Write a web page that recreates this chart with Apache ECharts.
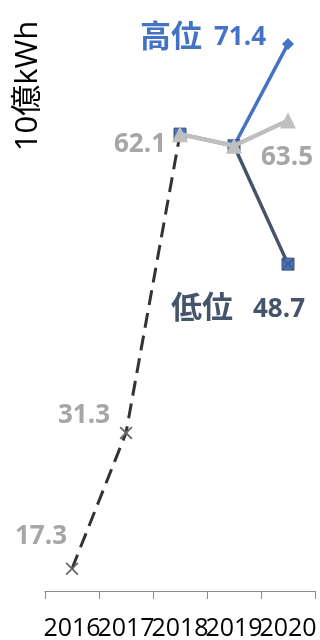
<!DOCTYPE html>
<html><head><meta charset="utf-8">
<script src="https://cdn.jsdelivr.net/npm/echarts@6/dist/echarts.min.js"></script>
<style>html,body{margin:0;padding:0;background:#fff}#c{width:320px;height:640px}</style>
</head><body><div id="c"></div>
<script>
var years = ['2016','2017','2018','2019','2020'];
var actual = [17.3, 31.3, 62.1, null, null];
var high = [null, null, 62.1, 60.9, 71.4];
var mid = [null, null, 62.1, 60.9, 63.5];
var low = [null, null, 62.1, 60.9, 48.7];
var unitLabel = '10億kWh';
var highName = '高位', lowName = '低位';

var FONT = '"Open Sans","Noto Sans CJK JP",sans-serif';
var BLUE = '#4472C4', DARK = '#44546A', GRAY = '#BFBFBF', LGRAY = '#A6A6A6';
var XPATH = 'path://M0,1L1,0L5,4L9,0L10,1L6,5L10,9L9,10L5,6L1,10L0,9L4,5Z';

function lbl(offset, color) {
  return {show: true, position: 'inside', offset: offset, color: color,
    fontFamily: FONT, fontWeight: 'bold', fontSize: 26};
}

var chart = echarts.init(document.getElementById('c'), null, {renderer: 'canvas'});
chart.setOption({
  animation: false,
  grid: {left: 45, right: 5, top: 9, bottom: 49, containLabel: false, outerBoundsMode: 'none'},
  xAxis: {
    type: 'category', data: years, boundaryGap: true,
    axisLine: {lineStyle: {color: '#8c8c8c', width: 1}},
    axisTick: {show: true, length: 8, lineStyle: {color: '#8c8c8c'}},
    axisLabel: {interval: 0, hideOverlap: false, color: '#000', fontFamily: FONT, fontSize: 25, margin: 25}
  },
  yAxis: {type: 'value', min: 15, max: 75, show: false, splitLine: {show: false}},
  graphic: [{
    type: 'text', x: 28, y: 86, rotation: Math.PI / 2,
    style: {text: unitLabel, fontFamily: FONT, fontSize: 31, fill: '#000', align: 'center', verticalAlign: 'middle'}
  }],
  series: [
    {
      type: 'line', z: 2,
      lineStyle: {color: '#333333', width: 3, type: [15, 8]},
      symbol: XPATH, symbolSize: 13, itemStyle: {color: '#6b6b6b'},
      label: {show: false},
      data: actual.map(function (v, i) {
        if (i === 0) return {value: v, label: lbl([-31, -32], LGRAY)};
        if (i === 1) return {value: v, label: lbl([-42, -17], LGRAY)};
        if (i === 2) return {value: v, symbol: 'none'};
        return v;
      })
    },
    {
      type: 'line', z: 3,
      lineStyle: {color: DARK, width: 3.5},
      symbol: 'rect', symbolSize: 12, itemStyle: {color: BLUE, borderColor: DARK, borderWidth: 1},
      data: low.map(function (v, i) {
        if (i === 4) return {value: v, label: {
          show: true, position: 'inside', offset: [-50, 45],
          formatter: '{a|' + lowName + '}{b|{c}}',
          rich: {
            a: {color: DARK, fontFamily: FONT, fontWeight: 'bold', fontSize: 31},
            b: {color: DARK, fontFamily: FONT, fontWeight: 'bold', fontSize: 26, padding: [0, 0, 0, 20]}
          }
        }};
        return v;
      })
    },
    {
      type: 'scatter', z: 4, data: low.map(function (v, i) { return i === 4 ? v : null; }),
      symbol: XPATH, symbolSize: 11, itemStyle: {color: DARK}, silent: true
    },
    {
      type: 'line', z: 3,
      lineStyle: {color: BLUE, width: 3.5},
      symbol: 'rect', symbolSize: 10, itemStyle: {color: BLUE},
      data: high.map(function (v, i) {
        if (i === 4) return {value: v, symbol: 'diamond', symbolSize: 12, label: {
          show: true, position: 'inside', offset: [-85, -6],
          formatter: '{a|' + highName + '}{b|{c}}',
          rich: {
            a: {color: BLUE, fontFamily: FONT, fontWeight: 'bold', fontSize: 31},
            b: {color: BLUE, fontFamily: FONT, fontWeight: 'bold', fontSize: 26, padding: [0, 0, 0, 12]}
          }
        }};
        return v;
      })
    },
    {
      type: 'line', z: 5,
      lineStyle: {color: GRAY, width: 4.5},
      symbol: 'triangle', symbolSize: 16, itemStyle: {color: GRAY},
      data: mid.map(function (v, i) {
        if (i === 2) return {value: v, label: lbl([-40, 10], LGRAY)};
        if (i === 4) return {value: v, label: lbl([-1, 37], LGRAY)};
        return v;
      })
    }
  ]
});
</script></body></html>
